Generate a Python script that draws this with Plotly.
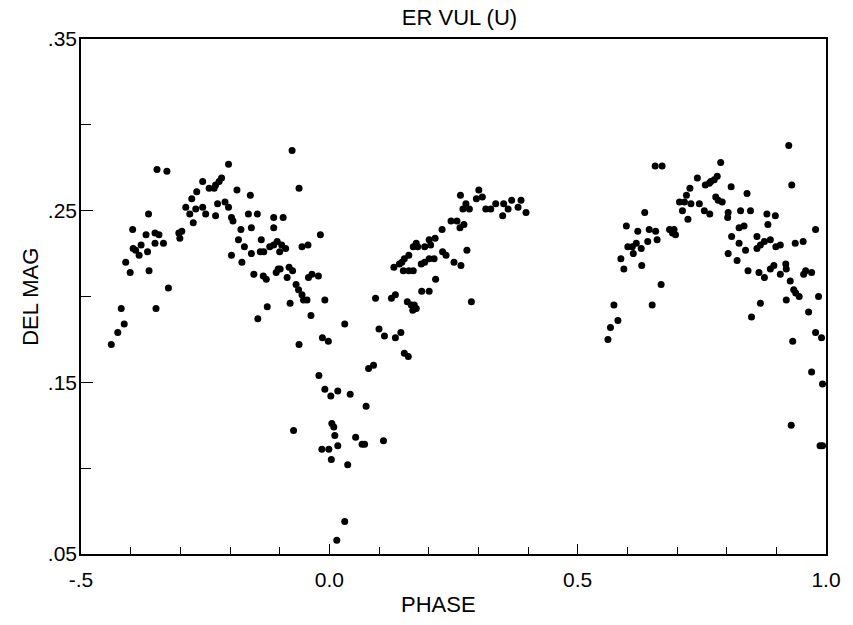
import plotly.graph_objects as go

# Light curve of ER Vul (U band): phase vs. differential magnitude
phase = [
    -0.439, -0.426, -0.413, -0.419, -0.410, -0.401, -0.396, -0.395, -0.390, -0.383,
    -0.379, -0.369, -0.366, -0.364, -0.363, -0.351, -0.343, -0.351, -0.334, -0.349,
    -0.347, -0.327, -0.324, -0.303, -0.297, -0.301, -0.289, -0.281, -0.277, -0.274,
    -0.269, -0.267, -0.255, -0.249, -0.255, -0.242, -0.232, -0.229, -0.222, -0.217,
    -0.225, -0.210, -0.203, -0.229, -0.203, -0.197, -0.194, -0.186, -0.183, -0.178,
    -0.176, -0.171, -0.197, -0.163,
    -0.159, -0.157, -0.157, -0.152, -0.145, -0.144, -0.139, -0.132, -0.137, -0.133,
    -0.127, -0.125, -0.120, -0.112, -0.112, -0.112, -0.105, -0.096, -0.088, -0.100,
    -0.107, -0.103, -0.099, -0.093, -0.085, -0.081, -0.074, -0.079, -0.075, -0.067,
    -0.062, -0.061, -0.055, -0.052, -0.045, -0.055, -0.043, -0.061, -0.072,
    -0.042, -0.035, -0.022, -0.037, -0.018, -0.009, -0.014, -0.002, -0.021, -0.009,
    0.003, 0.017, 0.042, 0.005, 0.009, 0.011, -0.015, -0.001, 0.017, 0.004,
    0.037, 0.031, 0.015, 0.031, 0.053, 0.066, 0.071, 0.074, 0.079, 0.089, 0.109,
    0.093, 0.100, 0.111, 0.133, 0.144, 0.125, 0.133, 0.151, 0.159, 0.157,
    0.165, 0.171, 0.175, 0.168, 0.130, 0.141, 0.146, 0.151, 0.160, 0.149,
    0.160, 0.169, 0.175, 0.169, 0.178, 0.192, 0.201, 0.213, 0.204, 0.185,
    0.192, 0.201, 0.211, 0.214, 0.186, 0.201, 0.227, 0.228, 0.235, 0.245,
    0.257, 0.271, 0.263, 0.251, 0.265, 0.277, 0.286, 0.264, 0.275, 0.269,
    0.282, 0.301, 0.296, 0.308, 0.315, 0.325, 0.335, 0.351, 0.360, 0.367,
    0.380, 0.386, 0.396, 0.349,
    0.561, 0.566, 0.573, 0.581, 0.587, 0.593, 0.598, 0.601, 0.610, 0.618,
    0.612, 0.628, 0.629, 0.621, 0.635, 0.641, 0.644, 0.657, 0.660, 0.650,
    0.668, 0.656, 0.670, 0.685, 0.694, 0.691, 0.697, 0.705, 0.715, 0.711,
    0.719, 0.722, 0.726, 0.728, 0.741, 0.745, 0.755, 0.757, 0.765, 0.768,
    0.775, 0.781, 0.766, 0.778, 0.783, 0.791, 0.788, 0.803, 0.802, 0.809,
    0.810, 0.803, 0.821, 0.825, 0.835, 0.825, 0.838, 0.828, 0.841, 0.848,
    0.843, 0.850, 0.861, 0.861, 0.868, 0.876, 0.888, 0.865, 0.876, 0.868,
    0.881, 0.883, 0.898, 0.888, 0.895, 0.899, 0.908, 0.908, 0.919, 0.920,
    0.920, 0.928, 0.925, 0.931, 0.935, 0.939, 0.946, 0.938, 0.954, 0.933,
    0.930, 0.955, 0.959, 0.971, 0.965, 0.979, 0.985, 0.979, 0.991, 0.971,
    0.993, 0.988, 0.993,
]
del_mag = [
    0.172, 0.179, 0.184, 0.193, 0.220, 0.214, 0.239, 0.228, 0.227, 0.224,
    0.230, 0.236, 0.226, 0.248, 0.215, 0.237, 0.236, 0.231, 0.231, 0.193,
    0.274, 0.273, 0.205, 0.237, 0.238, 0.234, 0.252, 0.248, 0.257, 0.243,
    0.251, 0.261, 0.252, 0.248, 0.267, 0.263, 0.263, 0.265, 0.267, 0.269,
    0.254, 0.255, 0.252, 0.247, 0.277, 0.246, 0.244, 0.262, 0.233, 0.239,
    0.220, 0.229, 0.224, 0.248,
    0.259, 0.240, 0.225, 0.213, 0.248, 0.187, 0.226, 0.226, 0.233, 0.212,
    0.210, 0.194, 0.229, 0.246, 0.240, 0.230, 0.232, 0.230, 0.228, 0.226,
    0.214, 0.216, 0.216, 0.246, 0.211, 0.217, 0.215, 0.196, 0.285, 0.207,
    0.204, 0.263, 0.201, 0.198, 0.198, 0.229, 0.230, 0.172, 0.122,
    0.211, 0.213, 0.212, 0.189, 0.236, 0.198, 0.176, 0.174, 0.154, 0.146,
    0.142, 0.145, 0.143, 0.126, 0.124, 0.119, 0.111, 0.111, 0.113, 0.105,
    0.102, 0.069, 0.058, 0.184, 0.118, 0.114, 0.114, 0.136, 0.158, 0.160, 0.116,
    0.199, 0.181, 0.177, 0.176, 0.179, 0.199, 0.201, 0.167, 0.165, 0.197,
    0.195, 0.195, 0.193, 0.192, 0.217, 0.219, 0.220, 0.222, 0.224, 0.215,
    0.215, 0.215, 0.231, 0.229, 0.229, 0.229, 0.233, 0.234, 0.230, 0.219,
    0.220, 0.222, 0.222, 0.210, 0.203, 0.203, 0.239, 0.226, 0.224, 0.244,
    0.244, 0.242, 0.240, 0.220, 0.218, 0.227, 0.197, 0.259, 0.254, 0.251,
    0.251, 0.262, 0.257, 0.258, 0.251, 0.251, 0.254, 0.254, 0.251, 0.256,
    0.252, 0.256, 0.249, 0.247,
    0.175, 0.182, 0.195, 0.186, 0.222, 0.216, 0.241, 0.229, 0.229, 0.231,
    0.225, 0.228, 0.218, 0.238, 0.249, 0.232, 0.239, 0.238, 0.233, 0.195,
    0.207, 0.276, 0.276, 0.239, 0.239, 0.237, 0.236, 0.255, 0.255, 0.250,
    0.259, 0.245, 0.263, 0.254, 0.269, 0.254, 0.250, 0.265, 0.266, 0.267,
    0.268, 0.270, 0.248, 0.258, 0.256, 0.255, 0.278, 0.249, 0.246, 0.264,
    0.235, 0.225, 0.221, 0.240, 0.241, 0.231, 0.227, 0.250, 0.260, 0.250,
    0.215, 0.188, 0.235, 0.228, 0.230, 0.232, 0.233, 0.214, 0.211, 0.196,
    0.248, 0.242, 0.247, 0.216, 0.218, 0.229, 0.230, 0.213, 0.219, 0.216,
    0.198, 0.209, 0.288, 0.265, 0.204, 0.202, 0.200, 0.231, 0.232, 0.174,
    0.125, 0.213, 0.215, 0.214, 0.191, 0.239, 0.200, 0.179, 0.176, 0.156,
    0.149, 0.113, 0.113,
]

x_tickvals = [-0.5, 0.0, 0.5, 1.0]
x_ticktext = ["-.5", "0.0", "0.5", "1.0"]
x_minor = [-0.4, -0.3, -0.2, -0.1, 0.1, 0.2, 0.3, 0.4, 0.6, 0.7, 0.8, 0.9]
y_tickvals = [0.05, 0.15, 0.25, 0.35]
y_ticktext = [".05", ".15", ".25", ".35"]
y_minor = [0.10, 0.20, 0.30]

FONT = "Liberation Sans, Arial, sans-serif"

fig = go.Figure()
fig.add_trace(go.Scatter(
    x=phase, y=del_mag, mode="markers",
    marker=dict(color="black", size=7, line=dict(width=0)),
    showlegend=False, cliponaxis=True,
))

fig.update_layout(
    width=853, height=625,
    margin=dict(l=81, r=22, t=39, b=71),
    paper_bgcolor="white", plot_bgcolor="white",
    font=dict(family=FONT, color="black", size=20),
    title=dict(text="ER VUL (U)", x=0.508, xref="paper", xanchor="center",
               y=0.973, yref="container", yanchor="middle",
               font=dict(family=FONT, size=22, color="black")),
    annotations=[
        dict(text="PHASE", xref="paper", yref="paper", x=0.48, y=-0.099,
             xanchor="center", yanchor="middle", showarrow=False,
             font=dict(family=FONT, size=22, color="black")),
        dict(text="DEL MAG", xref="paper", yref="paper", x=-0.068, y=0.5,
             xanchor="center", yanchor="middle", textangle=-90, showarrow=False,
             font=dict(family=FONT, size=22, color="black")),
    ],
)
fig.update_xaxes(
    range=[-0.5, 1.0], showgrid=False, zeroline=False,
    showline=True, linecolor="black", linewidth=1.5, mirror=True,
    tickmode="array", tickvals=x_tickvals, ticktext=x_ticktext,
    ticks="inside", ticklen=10, tickwidth=1, tickcolor="black",
    ticklabelstandoff=6,
    minor=dict(tickmode="array", tickvals=x_minor, ticks="inside",
               ticklen=7, tickwidth=1, tickcolor="black", showgrid=False),
    tickfont=dict(family=FONT, size=21, color="black"),
)
fig.update_yaxes(
    range=[0.05, 0.35], showgrid=False, zeroline=False,
    showline=True, linecolor="black", linewidth=1.5, mirror=True,
    tickmode="array", tickvals=y_tickvals, ticktext=y_ticktext,
    ticks="inside", ticklen=12, tickwidth=1, tickcolor="black",
    ticklabelstandoff=-2,
    minor=dict(tickmode="array", tickvals=y_minor, ticks="inside",
               ticklen=10, tickwidth=1, tickcolor="black", showgrid=False),
    tickfont=dict(family=FONT, size=21, color="black"),
)

# Remove the browser's default 8px body margin so the figure fills the window.
fig.write_html("out.html", config={"displayModeBar": False},
               post_script="document.body.style.margin='0px';")
